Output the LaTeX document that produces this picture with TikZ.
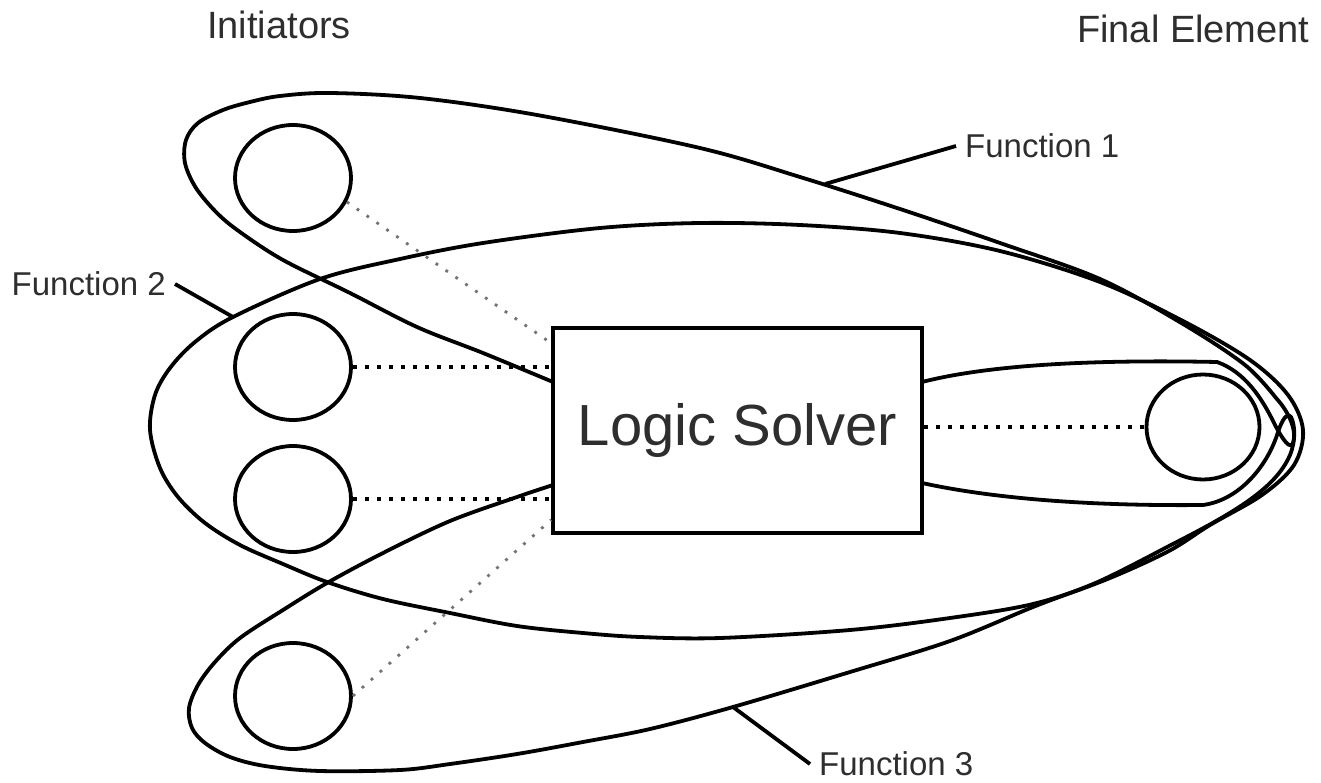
\documentclass[tikz,border=0pt]{standalone}
\usepackage{fontspec}
\setmainfont{Liberation Sans}
\usetikzlibrary{shapes.geometric,calc}
\begin{document}
\begin{tikzpicture}[x=1pt,y=-1pt,
  loop/.style={draw=black, line width=3.8pt, line join=round},
  sensor/.style={ellipse, draw=black, line width=3.8pt, inner sep=0pt,
    minimum width=116pt, minimum height=106pt},
  solver/.style={rectangle, draw=black, fill=white, line width=3.8pt,
    minimum width=369pt, minimum height=205pt, inner sep=0pt,
    font=\fontsize{58}{60}\selectfont, text=black!82},
  solid dots/.style={line width=3.6pt, dash pattern=on 3.6pt off 8.4pt},
  grey dots/.style={line width=2.8pt, draw=black!55, dash pattern=on 2.8pt off 9.2pt},
  fnlabel/.style={font=\fontsize{33}{35}\selectfont, text=black!82,
    inner ysep=0pt, inner xsep=9pt},
  header/.style={font=\fontsize{38}{40}\selectfont, text=black!82, inner sep=0pt},
  leader/.style={line width=3.8pt}
]
\useasboundingbox (0,0) rectangle (1321,783);
\fill[white] (0,0) rectangle (1321,783);

% Function 1: top initiator and the final element
\draw[loop] plot[smooth, tension=0.55] coordinates {(553,382) (483,353) (417,327)
    (350,293) (283,260) (240,232) (217,213) (196,188) (185,163) (186,140) (198,123)
    (223,110) (250,102) (280,96) (330,93) (420,98) (537,115) (700,148) (800,177)
    (900,209) (1000,243) (1100,279) (1183,324) (1245,365) (1276,398)}
  .. controls (1290,413) and (1297,432) .. (1293,443)
  .. controls (1290,450) and (1283,440) .. (1275,425)
  .. controls (1262,398) and (1245,372) .. (1217,362)
  .. controls (1120,360) and (1000,362) .. (922,382)
  -- cycle;

% Function 2: the two middle initiators and the final element
\draw[loop] plot[smooth cycle, tension=0.55] coordinates {(150,430) (155,395) (170,368)
    (195,342) (233,317) (320,279) (400,259) (483,243) (600,228) (700,223) (800,225)
    (900,233) (1000,251) (1100,282) (1183,321) (1250,360) (1288,395) (1303,430)
    (1294,465) (1262,495) (1210,525) (1167,552) (1100,582) (1033,604) (950,618)
    (850,630) (720,638) (640,637) (583,633) (517,626) (450,613) (383,599) (327,582)
    (283,564) (240,545) (205,523) (178,497) (160,468)};

% Function 3: bottom initiator and the final element
\draw[loop] plot[smooth, tension=0.55] coordinates {(553,485) (517,497) (450,521)
    (383,553) (327,583) (283,610) (240,638) (215,662) (198,685) (189,708) (192,728)
    (205,743) (230,757) (265,766) (320,771) (400,770) (450,764) (517,754) (583,742)
    (650,729) (733,707) (850,672) (950,641) (1033,607) (1100,581) (1167,547)}
  .. controls (1230,515) and (1275,490) .. (1290,455)
  .. controls (1296,440) and (1295,425) .. (1291,417)
  .. controls (1287,412) and (1282,420) .. (1278,432)
  .. controls (1268,465) and (1240,500) .. (1203,505)
  .. controls (1100,506) and (1000,500) .. (922,483)
  -- cycle;

% initiators, final element and logic solver
\node[sensor] (i1) at (293,178) {};
\node[sensor] (i2) at (293,367) {};
\node[sensor] (i3) at (293,499) {};
\node[sensor] (i4) at (293,696) {};
\node[sensor, minimum width=113pt, minimum height=105pt] (fe) at (1203,427) {};
\node[solver] (ls) at (737.5,430.5) {Logic Solver};

% signal links
\draw[solid dots] (i2.east) -- (i2.east -| ls.west);
\draw[solid dots] (i3.east) -- (i3.east -| ls.west);
\draw[solid dots] (ls.east |- fe.west) -- (fe.west);
\draw[grey dots] (i1.-24) -- ($(ls.north west)+(0,17)$);
\draw[grey dots] (i4.east) -- ($(ls.south west)+(0,-15)$);

% headings
\node[header, anchor=west] (ini) at (207,25) {Initiators};
\node[header, anchor=west] (fin) at (1077,29) {Final Element};

% function labels with leaders
\coordinate (f1pt) at (825,184);
\coordinate (f2pt) at (233,317);
\coordinate (f3pt) at (733,707);
\node[fnlabel, anchor=west] (f1) at (956,146) {Function 1};
\node[fnlabel, anchor=east] (f2) at (175,284) {Function 2};
\node[fnlabel, anchor=west] (f3) at (810,764) {Function 3};
\draw[leader] (f1pt) -- (f1.west);
\draw[leader] (f2.east) -- (f2pt);
\draw[leader] (f3pt) -- (f3.west);
\end{tikzpicture}
\end{document}
